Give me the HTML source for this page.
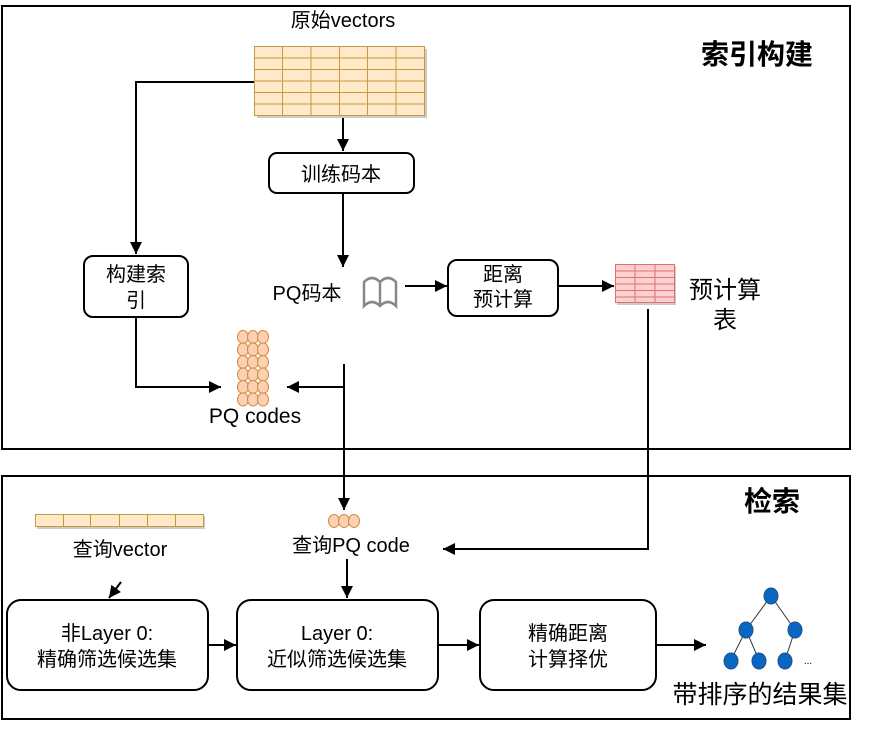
<!DOCTYPE html>
<html><head><meta charset="utf-8"><style>
html,body{margin:0;padding:0;background:#fff;width:882px;height:730px;overflow:hidden}
text{font-family:"Liberation Sans","Noto Sans CJK SC",sans-serif;fill:#000}
</style></head><body>
<svg width="882" height="730" viewBox="0 0 882 730" xmlns="http://www.w3.org/2000/svg">
<defs>
<marker id="a" markerWidth="13" markerHeight="13" refX="12" refY="6" orient="auto" markerUnits="userSpaceOnUse">
<path d="M0,0 L12,6 L0,12 z" fill="#000"/></marker>
</defs>
<!-- frames -->
<rect x="2" y="6" width="848" height="443" fill="none" stroke="#000" stroke-width="2"/>
<rect x="2" y="476" width="848" height="243" fill="none" stroke="#000" stroke-width="2"/>
<text x="757" y="64" font-size="28" font-weight="bold" text-anchor="middle">索引构建</text>
<text x="772" y="511" font-size="28" font-weight="bold" text-anchor="middle">检索</text>

<!-- vectors table -->
<text x="343" y="27" font-size="20" text-anchor="middle">原始vectors</text>
<rect x="257" y="49" width="170" height="69" fill="#ccc"/>
<rect x="254.5" y="46.5" width="170" height="69" fill="#ffe9c9" stroke="#c49a3c"/>
<g stroke="#c49a3c" stroke-width="1">
<line x1="282.5" y1="46" x2="282.5" y2="115"/><line x1="311" y1="46" x2="311" y2="115"/><line x1="339.5" y1="46" x2="339.5" y2="115"/><line x1="367.5" y1="46" x2="367.5" y2="115"/><line x1="396" y1="46" x2="396" y2="115"/>
<line x1="254" y1="58" x2="424" y2="58"/><line x1="254" y1="69.5" x2="424" y2="69.5"/><line x1="254" y1="81" x2="424" y2="81"/><line x1="254" y1="92.5" x2="424" y2="92.5"/><line x1="254" y1="104" x2="424" y2="104"/>
</g>

<g stroke="#000" stroke-width="2" fill="none">
<line x1="343" y1="118" x2="343" y2="151" marker-end="url(#a)"/>
<line x1="343" y1="193" x2="343" y2="267" marker-end="url(#a)"/>
<polyline points="254,82 136,82 136,254" marker-end="url(#a)"/>
<polyline points="136,317 136,387 221,387" marker-end="url(#a)"/>
<line x1="405" y1="286" x2="447" y2="286" marker-end="url(#a)"/>
<line x1="558" y1="286" x2="614" y2="286" marker-end="url(#a)"/>
<polyline points="648,309 648,549 443,549" marker-end="url(#a)"/>
<line x1="344" y1="364" x2="344" y2="510" marker-end="url(#a)"/>
<line x1="344" y1="387" x2="287" y2="387" marker-end="url(#a)"/>
<line x1="347" y1="559" x2="347" y2="598" marker-end="url(#a)"/>
<line x1="121" y1="582" x2="109" y2="598" marker-end="url(#a)"/>
<line x1="208" y1="645" x2="236" y2="645" marker-end="url(#a)"/>
<line x1="438" y1="645" x2="479" y2="645" marker-end="url(#a)"/>
<line x1="656" y1="645" x2="706" y2="645" marker-end="url(#a)"/>
</g>

<!-- boxes -->
<g fill="#fff" stroke="#000" stroke-width="2">
<rect x="269" y="153" width="145" height="40" rx="8"/>
<rect x="84" y="256" width="104" height="61" rx="9"/>
<rect x="448" y="260" width="110" height="56" rx="9"/>
<rect x="7" y="600" width="201" height="90" rx="14"/>
<rect x="237" y="600" width="201" height="90" rx="14"/>
<rect x="480" y="600" width="176" height="90" rx="14"/>
</g>
<text x="341" y="181" font-size="20" text-anchor="middle">训练码本</text>
<text x="136" y="281" font-size="20" text-anchor="middle">构建索</text>
<text x="136" y="307" font-size="20" text-anchor="middle">引</text>
<text x="503" y="281" font-size="20" text-anchor="middle">距离</text>
<text x="503" y="306" font-size="20" text-anchor="middle">预计算</text>
<text x="107" y="640" font-size="20" text-anchor="middle">非Layer 0:</text>
<text x="107" y="666" font-size="20" text-anchor="middle">精确筛选候选集</text>
<text x="337" y="640" font-size="20" text-anchor="middle">Layer 0:</text>
<text x="337" y="666" font-size="20" text-anchor="middle">近似筛选候选集</text>
<text x="568" y="640" font-size="20" text-anchor="middle">精确距离</text>
<text x="568" y="666" font-size="20" text-anchor="middle">计算择优</text>

<!-- PQ codebook -->
<text x="307" y="300" font-size="20" text-anchor="middle">PQ码本</text>
<g fill="none" stroke="#888" stroke-width="2.5">
<path d="M364,306 L364,282 Q372,274 380,282 Q388,274 396,282 L396,306 Q388,298 380,306 Q372,298 364,306 Z"/>
<line x1="380" y1="282" x2="380" y2="306"/>
</g>

<!-- pink table -->
<rect x="617" y="266" width="59" height="39" fill="#ccc"/>
<rect x="615.5" y="264.5" width="59" height="38" fill="#fcd0d0" stroke="#e07070"/>
<g stroke="#e07070" stroke-width="1">
<line x1="635" y1="264" x2="635" y2="303"/><line x1="655" y1="264" x2="655" y2="303"/>
<line x1="615" y1="271" x2="675" y2="271"/><line x1="615" y1="277.5" x2="675" y2="277.5"/><line x1="615" y1="284" x2="675" y2="284"/><line x1="615" y1="290.5" x2="675" y2="290.5"/><line x1="615" y1="297" x2="675" y2="297"/>
</g>
<text x="725" y="298" font-size="24" text-anchor="middle">预计算</text>
<text x="725" y="328" font-size="24" text-anchor="middle">表</text>

<!-- PQ codes -->
<g fill="#fcd0b0" stroke="#d08a40" stroke-width="1">
<g id="r"><ellipse cx="243" cy="337" rx="5.5" ry="6.5"/><ellipse cx="253" cy="337" rx="5.5" ry="6.5"/><ellipse cx="263" cy="337" rx="5.5" ry="6.5"/></g>
<use href="#r" y="12.5"/><use href="#r" y="25"/><use href="#r" y="37.5"/><use href="#r" y="50"/><use href="#r" y="62.5"/>
<ellipse cx="334" cy="521" rx="5.5" ry="6.5"/><ellipse cx="344" cy="521" rx="5.5" ry="6.5"/><ellipse cx="354" cy="521" rx="5.5" ry="6.5"/>
</g>
<text x="255" y="423" font-size="21" text-anchor="middle">PQ codes</text>

<!-- query vector -->
<rect x="37" y="516" width="168" height="13" fill="#ccc"/>
<rect x="35.5" y="514.5" width="168" height="12" fill="#ffe9c9" stroke="#c49a3c"/>
<g stroke="#c49a3c"><line x1="63.5" y1="514" x2="63.5" y2="527"/><line x1="90.5" y1="514" x2="90.5" y2="527"/><line x1="119.5" y1="514" x2="119.5" y2="527"/><line x1="147.5" y1="514" x2="147.5" y2="527"/><line x1="175.5" y1="514" x2="175.5" y2="527"/></g>
<text x="120" y="556" font-size="20" text-anchor="middle">查询vector</text>
<text x="351" y="552" font-size="20" text-anchor="middle">查询PQ code</text>

<!-- tree -->
<g stroke="#333" stroke-width="1">
<line x1="771" y1="596" x2="746" y2="630"/><line x1="771" y1="596" x2="795" y2="630"/>
<line x1="746" y1="630" x2="731" y2="660"/><line x1="746" y1="630" x2="759" y2="660"/><line x1="795" y1="630" x2="785" y2="660"/>
</g>
<g fill="#0a66c2" stroke="#1a4f8a" stroke-width="1">
<ellipse cx="771" cy="596" rx="7" ry="8"/><ellipse cx="746" cy="630" rx="7" ry="8"/><ellipse cx="795" cy="630" rx="7" ry="8"/>
<ellipse cx="731" cy="661" rx="7" ry="8"/><ellipse cx="759" cy="661" rx="7" ry="8"/><ellipse cx="785" cy="661" rx="7" ry="8"/>
</g>
<text x="808" y="664" font-size="10" text-anchor="middle">...</text>
<text x="760" y="703" font-size="25" text-anchor="middle">带排序的结果集</text>
</svg>
</body></html>
